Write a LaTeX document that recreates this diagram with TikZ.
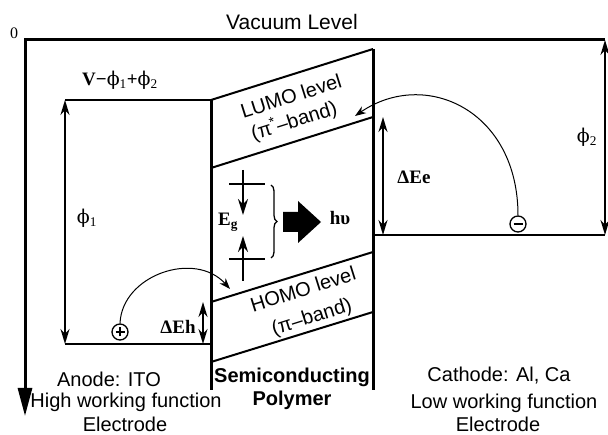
\documentclass[tikz,border=0pt]{standalone}
\usepackage{fontspec}
\setmainfont{Liberation Serif}
\setsansfont{Liberation Sans}
\newfontfamily\phifont{DejaVu Serif}
\usetikzlibrary{arrows.meta,decorations.pathreplacing}
\newcommand{\ph}{{\phifont\mdseries ϕ}}
\begin{document}
\begin{tikzpicture}[x=1pt,y=-1pt,
  heavy/.style={line width=3pt},
  med/.style={line width=2pt},
  arcline/.style={line width=1pt,-{Stealth[length=11pt,width=8pt]}},
  dbl/.style={line width=2pt,{Stealth[length=15pt,width=9pt]}-{Stealth[length=15pt,width=9pt]}},
  sgl/.style={line width=2pt,-{Stealth[length=16pt,width=10pt]}},
  sans/.style={font=\sffamily\fontsize{20}{22}\selectfont,inner sep=0pt},
  bsans/.style={font=\sffamily\bfseries\fontsize{20}{22}\selectfont,inner sep=0pt},
  serif/.style={font=\fontsize{19}{21}\selectfont,inner sep=0pt},
  bserif/.style={font=\bfseries\fontsize{19}{21}\selectfont,inner sep=0pt},
  band/.style={font=\sffamily\fontsize{20}{22}\selectfont,inner sep=0pt,rotate=17.5},
  charge/.style={circle,draw,line width=1.3pt,minimum size=16pt,inner sep=0pt}
]
\useasboundingbox (0,0) rectangle (608,435);
% key points
\coordinate (O) at (25,40);
\coordinate (VR) at (605,40);
\coordinate (AX) at (25,416);
\coordinate (A1) at (65,100);
\coordinate (A2) at (211,100);
\coordinate (A3) at (65,344);
\coordinate (A4) at (211,344);
\coordinate (PLb) at (211,390);
\coordinate (PRt) at (373,49);
\coordinate (PRb) at (373,390);
\coordinate (L1) at (211,168);
\coordinate (L2) at (373,117);
\coordinate (H1) at (211,302);
\coordinate (H2) at (373,252);
\coordinate (H3) at (211,362);
\coordinate (H4) at (373,312);
\coordinate (C1) at (373,235);
\coordinate (C2) at (605,235);
\coordinate (EeT) at (383,117);
\coordinate (EeB) at (383,235);
\coordinate (EhT) at (203,302);
\coordinate (EhB) at (203,344);
% vacuum level and energy axis
\draw[heavy,-{Triangle[length=28pt,width=14pt]}] (VR) -- (O) -- (AX);
% anode
\draw[med] (A1) -- (A2);
\draw[med] (A3) -- (A4);
\draw[dbl] (A1) -- (A3);
% polymer
\draw[heavy] (A2) -- (PLb);
\draw[heavy] (PRt) -- (PRb);
\draw[med] (A2) -- (PRt);
\draw[med] (L1) -- (L2);
\draw[med] (H1) -- (H2);
\draw[med] (H3) -- (H4);
% cathode
\draw[med] (C1) -- (C2);
\draw[dbl] (C2) -- (VR);
\draw[dbl] (EeT) -- (EeB);
\draw[dbl] (EhT) -- (EhB);
% band gap
\coordinate (G1) at (229,184);
\coordinate (G2) at (265,184);
\coordinate (G3) at (229,259);
\coordinate (G4) at (265,259);
\coordinate (GA1) at (243,170);
\coordinate (GA2) at (243,215);
\coordinate (GB1) at (243,281);
\coordinate (GB2) at (243,236);
\draw[line width=1.5pt] (G1) -- (G2);
\draw[line width=1.5pt] (G3) -- (G4);
\draw[sgl] (GA1) -- (GA2);
\draw[sgl] (GB1) -- (GB2);
\coordinate (BR1) at (271,185);
\coordinate (BR2) at (271,258);
\draw[line width=1.3pt,decorate,decoration={brace,amplitude=6pt}] (BR1) -- (BR2);
\fill (283,212) -- (298,212) -- (298,201) -- (321,222) -- (298,243) -- (298,232) -- (283,232) -- cycle;
% charges
\node[charge] (elec) at (518,224) {};
\draw[line width=1.3pt] ([xshift=-4.5pt]elec.center) -- ([xshift=4.5pt]elec.center);
\node[charge] (hole) at (120,332) {};
\draw[line width=1.3pt] ([xshift=-4.5pt]hole.center) -- ([xshift=4.5pt]hole.center);
\draw[line width=1.3pt] ([yshift=-4.5pt]hole.center) -- ([yshift=4.5pt]hole.center);
\coordinate (Etip) at (355,116);
\coordinate (Htip) at (230,289);
\draw[arcline] (elec.north) .. controls (518,110) and (425,68) .. (Etip);
\draw[arcline] (hole.north) .. controls (122,275) and (195,250) .. (Htip);
% labels
\node[serif,font=\fontsize{16}{18}\selectfont] (zero) at (14,33) {0};
\node[sans,font=\sffamily\fontsize{21}{23}\selectfont] (vac) at (292,22) {Vacuum Level};
\node[bserif] (vlab) at (120,80) {V−\ph\textsubscript{\mdseries 1}+\ph\textsubscript{\mdseries 2}};
\node[serif] (phi1) at (87,218) {\ph\textsubscript{1}};
\node[serif] (phi2) at (587,137) {\ph\textsubscript{2}};
\node[bserif] (dee) at (414,177) {ΔEe};
\node[bserif] (deh) at (178,327) {ΔEh};
\node[bserif] (eg) at (228,222) {E\textsubscript{g}};
\node[bserif] (hv) at (340,218) {hυ};
\node[band] (lumo) at (291,96) {LUMO level};
\node[band] (pistar) at (294,121) {(π\textsuperscript{*}–band)};
\node[band] (homo) at (303,289) {HOMO level};
\node[band] (pi) at (312,318) {(π–band)};
\node[bsans] (semi) at (292,377) {Semiconducting};
\node[bsans] (poly) at (292,400) {Polymer};
\node[sans] (an1) at (109,379) {Anode: ITO};
\node[sans] (an2) at (126,402) {High working function};
\node[sans] (an3) at (125,424) {Electrode};
\node[sans] (ca1) at (499,376) {Cathode: Al, Ca};
\node[sans] (ca2) at (504,403) {Low working function};
\node[sans] (ca3) at (498,424) {Electrode};
\end{tikzpicture}
\end{document}
